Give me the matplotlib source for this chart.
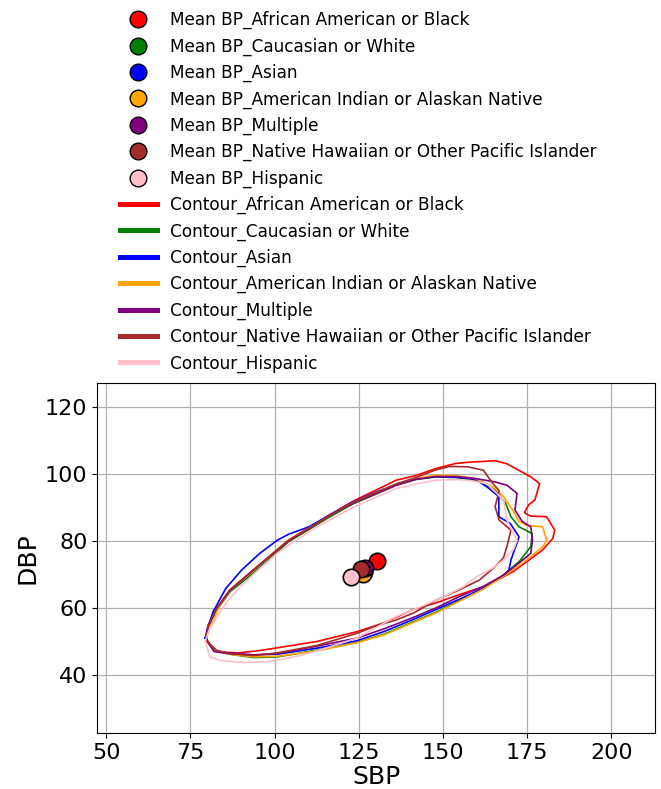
import matplotlib
matplotlib.use('Agg')
import matplotlib.pyplot as plt
from matplotlib.lines import Line2D

# groups and colours
groups = ['African American or Black', 'Caucasian or White', 'Asian',
          'American Indian or Alaskan Native', 'Multiple',
          'Native Hawaiian or Other Pacific Islander', 'Hispanic']
colors = ['red', 'green', 'blue', 'orange', 'purple', 'brown', 'pink']

# mean SBP / DBP per group
mean_sbp = [130.3, 126.6, 126.0, 126.3, 126.8, 125.6, 122.6]
mean_dbp = [74.0, 70.8, 71.3, 70.2, 71.9, 71.6, 69.3]

# contour outlines (SBP, DBP)
red_sbp = [79.6, 83.2, 89.1, 95.0, 100.8, 112.6, 124.4, 132.6, 140.8, 147.9, 154.9, 162.0, 167.0, 170.8,
           174.9, 179.6, 182.6, 183.2, 180.8, 176.0, 174.2, 175.5, 177.3, 178.7, 176.1, 169.0, 165.5,
           158.0, 153.8, 147.9, 142.0, 136.1, 130.2, 123.2, 116.1, 110.2, 104.2, 99.6, 92.6, 86.7, 82.6, 80.2]
red_dbp = [50.4, 46.9, 46.6, 47.2, 48.1, 50.0, 52.9, 55.6, 59.4, 61.5, 64.0, 66.3, 68.8, 70.8,
           73.8, 77.3, 80.7, 83.2, 87.2, 87.4, 88.4, 90.8, 92.2, 97.1, 99.1, 103.0, 103.9,
           103.5, 103.1, 101.6, 99.5, 98.1, 95.2, 91.8, 87.6, 83.9, 80.3, 76.4, 70.4, 65.4, 59.6, 54.6]

green_sbp = [79.6, 82.0, 86.7, 93.8, 100.8, 112.6, 124.4, 132.6, 140.8, 147.9, 154.9, 162.0, 167.9, 172.6,
             176.1, 176.5, 172.6, 170.2, 168.6, 165.5, 159.6, 153.8, 147.9, 142.0, 136.1, 130.2, 123.2,
             116.1, 110.2, 104.2, 99.6, 92.6, 86.7, 82.6, 80.2]
green_dbp = [50.4, 47.4, 46.2, 45.2, 45.4, 47.4, 49.7, 52.2, 55.7, 58.7, 62.2, 65.8, 69.8, 73.8,
             78.3, 82.2, 84.2, 87.2, 91.2, 95.2, 98.1, 98.9, 99.1, 98.3, 96.6, 94.0, 91.0,
             87.0, 83.4, 79.8, 75.6, 69.5, 64.8, 59.0, 54.2]

blue_sbp = [79.4, 82.0, 86.7, 93.8, 100.8, 112.6, 124.4, 132.6, 140.8, 147.9, 154.9, 162.0, 168.0, 169.6,
            170.2, 172.6, 170.0, 166.6, 166.6, 163.1, 159.6, 153.8, 147.9, 142.0, 136.1, 130.2, 123.2,
            116.1, 110.2, 104.2, 100.8, 95.5, 90.2, 85.5, 81.8, 80.0]
blue_dbp = [51.0, 47.2, 46.5, 46.0, 46.2, 48.0, 50.2, 53.0, 56.4, 59.5, 62.6, 65.9, 69.5, 71.3,
            74.3, 81.2, 85.2, 87.2, 93.2, 96.1, 98.4, 99.0, 99.2, 98.5, 96.8, 94.6, 91.6,
            87.6, 84.2, 82.0, 80.2, 76.2, 71.3, 65.8, 59.0, 53.8]

orange_sbp = [79.8, 82.2, 86.7, 93.8, 100.8, 112.6, 124.4, 132.6, 140.8, 147.9, 154.9, 162.0, 168.5, 173.2,
              177.3, 179.9, 180.8, 179.6, 175.0, 172.6, 170.5, 168.0, 165.0, 159.6, 153.8, 147.9, 142.0,
              136.1, 130.2, 123.2, 116.1, 110.2, 104.2, 99.6, 92.6, 86.7, 83.2, 82.0, 80.5]
orange_dbp = [50.8, 47.2, 46.2, 45.4, 45.6, 47.2, 49.6, 52.0, 55.5, 58.5, 62.0, 65.6, 69.8, 73.0,
              76.3, 78.5, 80.2, 84.2, 84.6, 85.8, 89.5, 93.2, 96.0, 98.6, 99.5, 99.6, 98.6,
              96.8, 94.4, 91.4, 87.4, 83.8, 80.3, 76.3, 70.3, 65.2, 59.8, 56.4, 54.0]

purple_sbp = [79.8, 82.0, 86.7, 93.8, 100.8, 112.6, 124.4, 132.6, 140.8, 147.9, 154.9, 162.0, 168.0, 172.6,
              176.1, 176.6, 176.1, 173.5, 171.4, 172.0, 169.0, 165.5, 159.6, 153.8, 147.9, 142.0, 136.1,
              130.2, 123.2, 116.1, 110.2, 104.2, 99.6, 92.6, 86.7, 82.6, 80.2]
purple_dbp = [50.6, 47.0, 46.3, 46.0, 46.4, 48.6, 51.0, 53.8, 57.0, 60.0, 63.4, 66.4, 69.8, 73.4,
              76.3, 80.2, 84.2, 85.8, 89.2, 94.2, 96.6, 97.6, 98.6, 99.2, 99.2, 98.4, 96.6,
              94.1, 91.2, 87.4, 83.7, 80.0, 76.2, 70.4, 65.2, 59.6, 54.4]

brown_sbp = [79.6, 82.5, 86.7, 93.8, 100.8, 112.6, 124.4, 130.0, 136.1, 141.5, 147.9, 154.0, 160.8, 165.5,
             168.0, 169.0, 170.2, 166.7, 165.5, 166.7, 164.5, 162.0, 157.3, 152.0, 147.9, 142.0, 136.1,
             130.2, 123.2, 116.1, 110.2, 104.2, 99.6, 92.6, 86.7, 82.6, 80.2]
brown_dbp = [50.4, 47.4, 46.4, 45.8, 46.6, 48.8, 52.4, 54.6, 56.4, 58.6, 62.3, 65.0, 68.3, 72.3,
             75.0, 78.3, 83.2, 86.2, 90.2, 95.0, 97.5, 101.1, 102.1, 102.2, 101.2, 98.9, 97.0,
             94.4, 91.4, 87.4, 83.8, 80.2, 76.3, 70.3, 65.2, 59.5, 54.5]

pink_sbp = [79.4, 80.8, 84.0, 91.4, 98.5, 106.7, 114.0, 124.4, 136.0, 143.0, 150.2, 156.0, 160.0, 165.0,
            168.0, 171.0, 172.0, 169.0, 168.0, 163.0, 158.0, 153.8, 147.9, 142.0, 136.0, 130.2, 123.2,
            112.6, 106.0, 101.0, 95.0, 90.0, 86.0, 82.6, 80.4]
pink_dbp = [50.0, 45.4, 44.3, 43.7, 44.0, 45.6, 47.6, 51.0, 57.4, 60.2, 63.3, 66.3, 69.3, 72.0,
            74.3, 77.5, 80.2, 86.2, 92.2, 97.1, 98.0, 98.3, 98.1, 97.0, 95.6, 93.0, 90.0,
            84.2, 80.0, 76.5, 71.2, 66.5, 62.0, 57.0, 53.0]

contours = [(red_sbp, red_dbp), (green_sbp, green_dbp), (blue_sbp, blue_dbp),
            (orange_sbp, orange_dbp), (purple_sbp, purple_dbp),
            (brown_sbp, brown_dbp), (pink_sbp, pink_dbp)]

fig = plt.figure(figsize=(6.61, 7.89), dpi=100)
ax = fig.add_axes([0.147, 0.071, 0.844, 0.444])

for (xs, ys), c in zip(contours, colors):
    ax.plot(list(xs) + [xs[0]], list(ys) + [ys[0]], color=c, lw=1.2)

for sx, dy, c in zip(mean_sbp, mean_dbp, colors):
    ax.scatter(sx, dy, s=140, color=c, edgecolors='black', linewidths=1.2, zorder=5)

ax.set_xlim(47.3, 213)
ax.set_ylim(22.7, 127.2)
ax.set_xticks([50, 75, 100, 125, 150, 175, 200])
ax.set_yticks([40, 60, 80, 100, 120])
ax.tick_params(labelsize=16)
ax.set_xlabel('SBP', fontsize=18, labelpad=2)
ax.set_ylabel('DBP', fontsize=18)
ax.grid(True, color='#b0b0b0', lw=0.9)

# legend handles
handles = []
for g, c in zip(groups, colors):
    handles.append(Line2D([], [], marker='o', ls='none', markersize=12, markerfacecolor=c,
                          markeredgecolor='black', label='Mean BP_' + g))
for g, c in zip(groups, colors):
    handles.append(Line2D([], [], color=c, lw=3.6, label='Contour_' + g))

ax.legend(handles=handles, loc='lower center', bbox_to_anchor=(0.468, 0.985), frameon=False,
          fontsize=12.2, handlelength=2.2, labelspacing=0.48)

plt.savefig('out.png', dpi=100)
